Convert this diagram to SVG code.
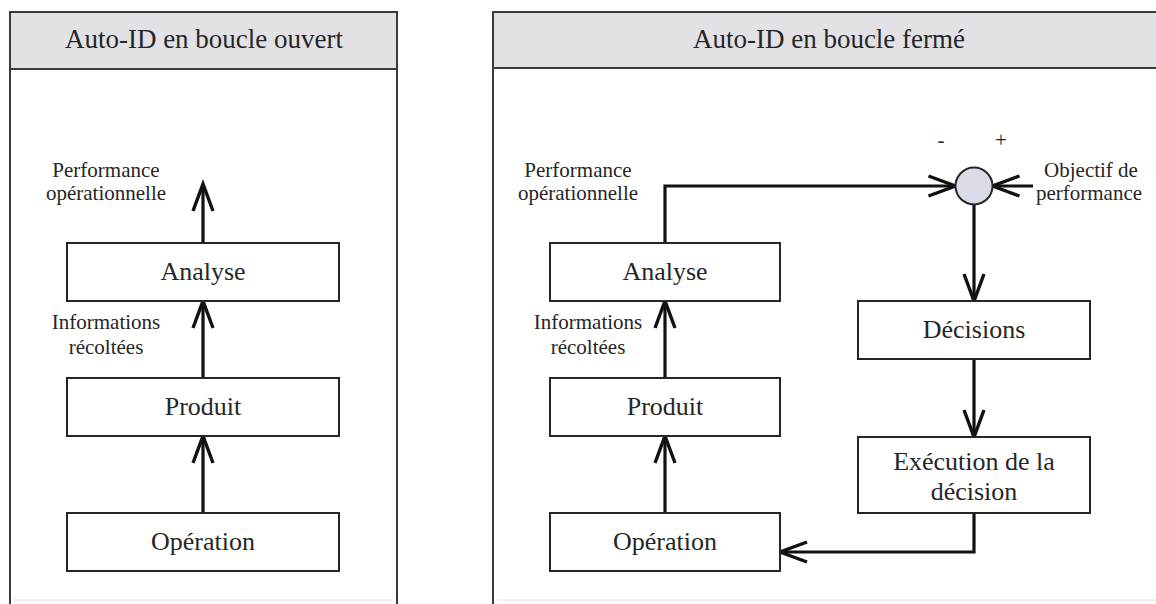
<svg xmlns="http://www.w3.org/2000/svg" width="1156" height="604" viewBox="0 0 1156 604">
<style>
.panel{fill:#fff;stroke:#3a3a3a;stroke-width:2}
.head{fill:#e2e2e6;stroke:#3a3a3a;stroke-width:2}
.box{fill:#fff;stroke:#262626;stroke-width:2}
.t{font-family:"Liberation Serif","Times New Roman",serif;fill:#262626;text-anchor:middle}
.hd{font-size:27px}
.big{font-size:26px}
.sm{font-size:21px}
.con{fill:none;stroke:#111;stroke-width:3.2}
</style>
<defs>
<marker id="ah" markerUnits="userSpaceOnUse" viewBox="-30 -14 34 28" refX="0" refY="0" markerWidth="34" markerHeight="28" orient="auto" overflow="visible">
<path d="M-27,-10 L0,0 L-27,10" fill="none" stroke="#111" stroke-width="3.4" stroke-linejoin="miter"/>
</marker>
</defs>
<rect width="1156" height="604" fill="#fff"/>
<g id="panel-open">
<path class="panel" d="M10,604 V12 H397 V604"/>
<rect class="head" x="10" y="12" width="387" height="57"/>
<line x1="14" y1="600" x2="393" y2="600" stroke="#dcdcdc" stroke-width="1"/>
<text class="t hd" x="204" y="48">Auto-ID en boucle ouvert</text>
</g>
<g id="panel-closed">
<path class="panel" d="M493,604 V12 H1160"/>
<rect class="head" x="493" y="12" width="670" height="56"/>
<line x1="497" y1="600" x2="1156" y2="600" stroke="#dcdcdc" stroke-width="1"/>
<text class="t hd" x="829" y="48">Auto-ID en boucle fermé</text>
</g>
<g id="connectors">
<path class="con" d="M203,243 V184" marker-end="url(#ah)"/>
<path class="con" d="M203,378 V301" marker-end="url(#ah)"/>
<path class="con" d="M203,513 V436" marker-end="url(#ah)"/>
<path class="con" d="M665,378 V301" marker-end="url(#ah)"/>
<path class="con" d="M665,513 V436" marker-end="url(#ah)"/>
<path class="con" d="M665,243 V186 H955.5" marker-end="url(#ah)"/>
<path class="con" d="M1033,186 H992.5" marker-end="url(#ah)"/>
<path class="con" d="M974,204.5 V301" marker-end="url(#ah)"/>
<path class="con" d="M974,359 V437" marker-end="url(#ah)"/>
<path class="con" d="M974,513 V552 H780" marker-end="url(#ah)"/>
</g>
<g id="l-analyse"><rect class="box" x="67" y="243" width="272" height="58"/><text class="t big" x="203" y="280">Analyse</text></g>
<g id="l-produit"><rect class="box" x="67" y="378" width="272" height="58"/><text class="t big" x="203" y="415">Produit</text></g>
<g id="l-operation"><rect class="box" x="67" y="513" width="272" height="58"/><text class="t big" x="203" y="550">Opération</text></g>
<g id="l-perf"><text class="t sm" x="106" y="177">Performance</text><text class="t sm" x="106" y="200">opérationnelle</text></g>
<g id="l-info"><text class="t sm" x="106" y="329">Informations</text><text class="t sm" x="106" y="354">récoltées</text></g>
<g id="r-analyse"><rect class="box" x="550" y="243" width="230" height="58"/><text class="t big" x="665" y="280">Analyse</text></g>
<g id="r-produit"><rect class="box" x="550" y="378" width="230" height="58"/><text class="t big" x="665" y="415">Produit</text></g>
<g id="r-operation"><rect class="box" x="550" y="513" width="230" height="58"/><text class="t big" x="665" y="550">Opération</text></g>
<g id="r-decisions"><rect class="box" x="858" y="301" width="232" height="58"/><text class="t big" x="974" y="338">Décisions</text></g>
<g id="r-execution"><rect class="box" x="858" y="437" width="232" height="76"/><text class="t big" x="974" y="470">Exécution de la</text><text class="t big" x="974" y="500">décision</text></g>
<g id="r-compare"><circle cx="974" cy="186" r="18.5" fill="#d9dbe6" stroke="#262626" stroke-width="2"/><text class="t sm" x="941" y="147">-</text><text class="t sm" x="1001" y="147">+</text></g>
<g id="r-perf"><text class="t sm" x="578" y="177">Performance</text><text class="t sm" x="578" y="200">opérationnelle</text></g>
<g id="r-info"><text class="t sm" x="588" y="329">Informations</text><text class="t sm" x="588" y="354">récoltées</text></g>
<g id="r-objectif"><text class="t sm" x="1091" y="177">Objectif de</text><text class="t sm" x="1089" y="200">performance</text></g>
</svg>
